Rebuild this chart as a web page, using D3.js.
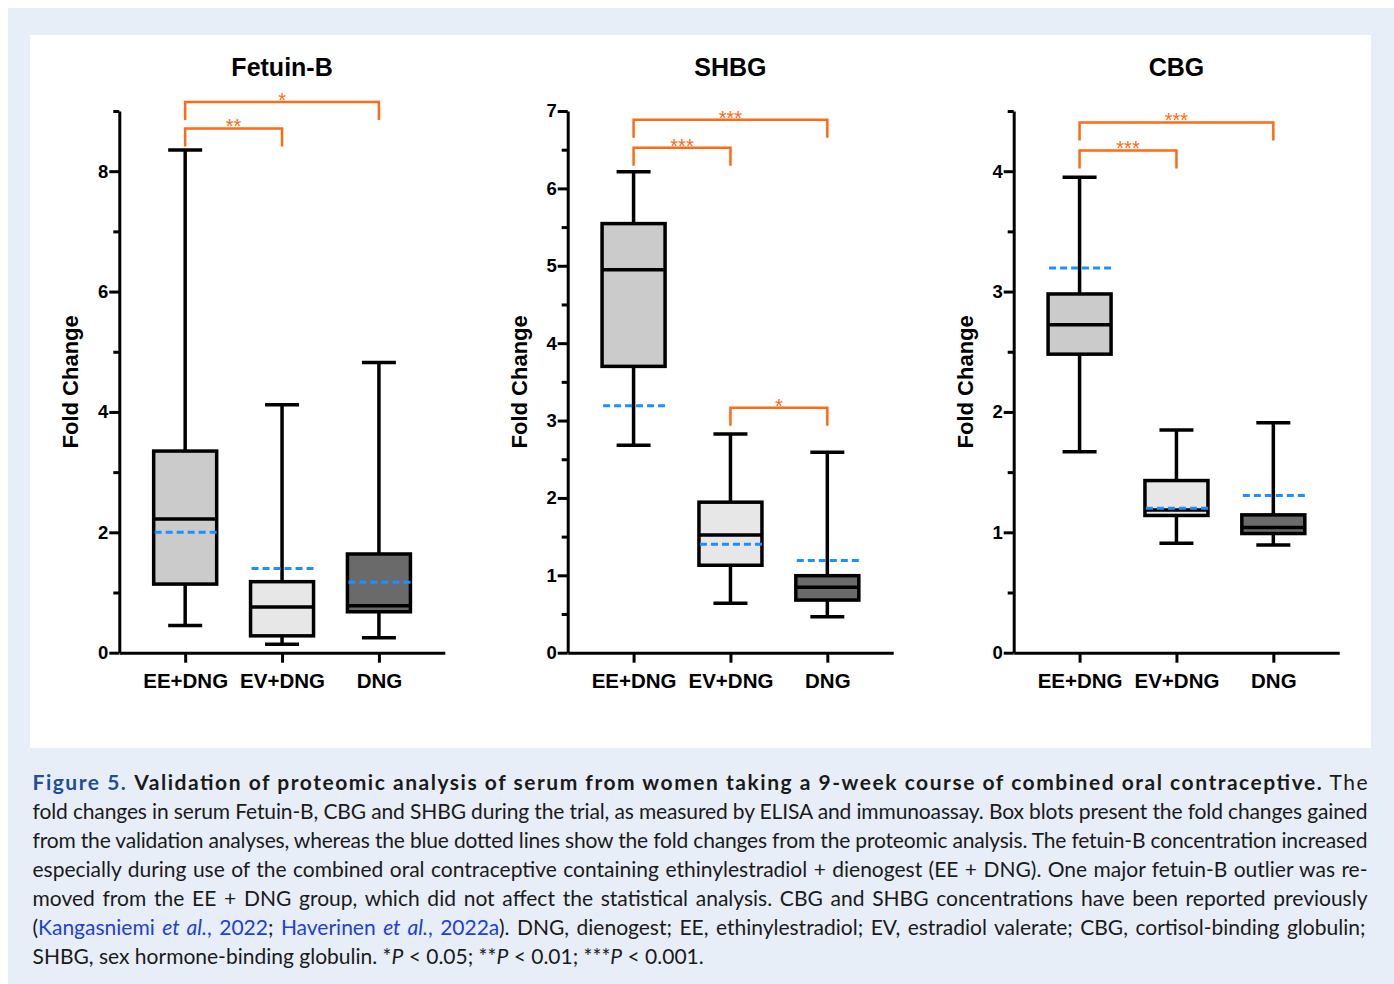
<!DOCTYPE html>
<html>
<head>
<meta charset="utf-8">
<script src="https://cdn.jsdelivr.net/npm/d3@7"></script>
<style>
body { margin: 0; background: #ffffff; }
svg { display: block; }
</style>
</head>
<body>
<div id="figure"></div>
<script>
'use strict'
var width = 1394;
var height = 984;

// categories
var groups = ["EE+DNG", "EV+DNG", "DNG"];
var boxFills = ["#cbcbcb", "#e7e7e7", "#6a6a6a"];

// Fetuin-B
var fetuinMin = [0.45, 0.14, 0.25];
var fetuinQ1 = [1.14, 0.28, 0.68];
var fetuinMedian = [2.22, 0.76, 0.78];
var fetuinQ3 = [3.35, 1.18, 1.64];
var fetuinMax = [8.35, 4.12, 4.82];
var fetuinProteomic = [2.0, 1.40, 1.17];
var fetuinTicks = [0, 2, 4, 6, 8];
var fetuinMinor = [1, 3, 5, 7, 9];
var fetuinBrackets = [["EE+DNG", "EV+DNG", 8.71, "**"], ["EE+DNG", "DNG", 9.15, "*"]];

// SHBG
var shbgMin = [2.68, 0.64, 0.465];
var shbgQ1 = [3.70, 1.13, 0.68];
var shbgMedian = [4.95, 1.52, 0.845];
var shbgQ3 = [5.545, 1.945, 0.995];
var shbgMax = [6.215, 2.826, 2.59];
var shbgProteomic = [3.19, 1.40, 1.19];
var shbgTicks = [0, 1, 2, 3, 4, 5, 6, 7];
var shbgMinor = [0.5, 1.5, 2.5, 3.5, 4.5, 5.5, 6.5];
var shbgBrackets = [["EE+DNG", "EV+DNG", 6.525, "***"], ["EE+DNG", "DNG", 6.886, "***"], ["EV+DNG", "DNG", 3.166, "*"]];

// CBG
var cbgMin = [1.67, 0.91, 0.895];
var cbgQ1 = [2.48, 1.14, 0.99];
var cbgMedian = [2.725, 1.185, 1.04];
var cbgQ3 = [2.98, 1.43, 1.145];
var cbgMax = [3.95, 1.85, 1.91];
var cbgProteomic = [3.195, 1.20, 1.305];
var cbgTicks = [0, 1, 2, 3, 4];
var cbgMinor = [0.5, 1.5, 2.5, 3.5, 4.5];
var cbgBrackets = [["EE+DNG", "EV+DNG", 4.172, "***"], ["EE+DNG", "DNG", 4.405, "***"]];

var chartFont = "'Liberation Sans', Arial, Helvetica, sans-serif";
var orange = "#ff6a13";
var blue = "#1e8fff";

var svg = d3.select("#figure")
	.append("svg")
	.attr("width", width)
	.attr("height", height);

// light blue frame and white plot area
svg.append("rect").attr("x", 8).attr("y", 8).attr("width", width - 8).attr("height", height - 8).attr("fill", "#e7eef8");
svg.append("rect").attr("x", 30).attr("y", 35).attr("width", 1341).attr("height", 713).attr("fill", "#ffffff");

var yZero = 652.7;
var yTop = 111;
var axisWidth = 325.5;

function drawPanel(left, title, yMax, ticks, minor, mins, q1s, meds, q3s, maxs, prot, brackets){
	var g = svg.append("g").attr("transform", "translate(" + left + ",0)");

	var y = d3.scaleLinear().domain([0, yMax]).range([yZero, yTop]);
	var x = d3.scalePoint().domain(groups).range([0, axisWidth]).padding(0.68);

	// title
	g.append("text")
		.attr("x", axisWidth / 2)
		.attr("y", 76)
		.attr("text-anchor", "middle")
		.style("font-family", chartFont)
		.style("font-weight", "bold")
		.style("font-size", "25px")
		.text(title);

	// y label
	g.append("text")
		.attr("transform", "translate(-41," + ((yZero + yTop) / 2) + ") rotate(-90)")
		.attr("text-anchor", "middle")
		.style("font-family", chartFont)
		.style("font-weight", "bold")
		.style("font-size", "22px")
		.text("Fold Change");

	// minor ticks
	var minorAxis = g.append("g")
		.call(d3.axisLeft(y).tickValues(minor).tickSize(6).tickSizeOuter(0).tickFormat(""));
	minorAxis.select(".domain").remove();
	minorAxis.selectAll("line").attr("stroke", "#000").attr("stroke-width", 3);

	// y axis
	var yAxis = g.append("g")
		.call(d3.axisLeft(y).tickValues(ticks).tickSize(10).tickSizeOuter(0).tickPadding(1).tickFormat(d3.format("d")));
	yAxis.select(".domain").attr("stroke-width", 3);
	yAxis.selectAll("line").attr("stroke-width", 3);
	yAxis.selectAll("text")
		.style("font-family", chartFont)
		.style("font-weight", "bold")
		.style("font-size", "18.5px")
		.attr("fill", "#000");

	// x axis
	var xAxis = g.append("g")
		.attr("transform", "translate(0," + yZero + ")")
		.call(d3.axisBottom(x).tickSize(10).tickSizeOuter(0));
	xAxis.select(".domain").attr("stroke-width", 3);
	xAxis.selectAll("line").attr("stroke-width", 3);
	xAxis.selectAll("text")
		.attr("y", 35.3)
		.attr("dy", 0)
		.style("font-family", chartFont)
		.style("font-weight", "bold")
		.style("font-size", "20.5px")
		.attr("fill", "#000");

	var boxes = groups.map(function(d, i){
		return {grp: d, min: mins[i], q1: q1s[i], med: meds[i], q3: q3s[i], max: maxs[i], prot: prot[i], fill: boxFills[i]};
	});
	var bw = 63, cw = 34;

	var b = g.append("g").selectAll("g")
		.data(boxes)
		.enter()
		.append("g")
			.attr("transform", function(d){ return "translate(" + x(d.grp) + ",0)"; });

	b.append("line")
		.attr("y1", function(d){ return y(d.min); })
		.attr("y2", function(d){ return y(d.max); })
		.attr("stroke", "#000").attr("stroke-width", 3.5);
	b.append("rect")
		.attr("x", -bw / 2)
		.attr("y", function(d){ return y(d.q3); })
		.attr("width", bw)
		.attr("height", function(d){ return y(d.q1) - y(d.q3); })
		.attr("fill", function(d){ return d.fill; })
		.attr("stroke", "#000").attr("stroke-width", 3.5);
	b.append("line")
		.attr("x1", -bw / 2).attr("x2", bw / 2)
		.attr("y1", function(d){ return y(d.med); })
		.attr("y2", function(d){ return y(d.med); })
		.attr("stroke", "#000").attr("stroke-width", 3.5);
	["min", "max"].forEach(function(k){
		b.append("line")
			.attr("x1", -cw / 2).attr("x2", cw / 2)
			.attr("y1", function(d){ return y(d[k]); })
			.attr("y2", function(d){ return y(d[k]); })
			.attr("stroke", "#000").attr("stroke-width", 3.5);
	});
	// proteomic fold change (blue dotted)
	b.append("line")
		.attr("x1", -bw / 2 + 1).attr("x2", bw / 2)
		.attr("y1", function(d){ return y(d.prot); })
		.attr("y2", function(d){ return y(d.prot); })
		.attr("stroke", blue).attr("stroke-width", 3)
		.attr("stroke-dasharray", "7,4");

	// significance brackets
	var leg = 18;
	var br = g.append("g").selectAll("g")
		.data(brackets)
		.enter()
		.append("g");
	br.append("path")
		.attr("d", function(d){
			var yy = y(d[2]);
			return "M" + x(d[0]) + "," + (yy + leg) + "V" + yy + "H" + x(d[1]) + "V" + (yy + leg);
		})
		.attr("fill", "none")
		.attr("stroke", orange)
		.attr("stroke-width", 2.5);
	br.append("text")
		.attr("x", function(d){ return (x(d[0]) + x(d[1])) / 2; })
		.attr("y", function(d){ return y(d[2]) + 5; })
		.attr("text-anchor", "middle")
		.style("font-family", chartFont)
		.style("font-size", "20px")
		.attr("fill", orange)
		.text(function(d){ return d[3]; });
}

drawPanel(119.3, "Fetuin-B", 9, fetuinTicks, fetuinMinor, fetuinMin, fetuinQ1, fetuinMedian, fetuinQ3, fetuinMax, fetuinProteomic, fetuinBrackets);
drawPanel(567.7, "SHBG", 7, shbgTicks, shbgMinor, shbgMin, shbgQ1, shbgMedian, shbgQ3, shbgMax, shbgProteomic, shbgBrackets);
drawPanel(1013.7, "CBG", 4.5, cbgTicks, cbgMinor, cbgMin, cbgQ1, cbgMedian, cbgQ3, cbgMax, cbgProteomic, cbgBrackets);

// caption, one entry per printed line: [text, style]
var captionLines = [
	[["Figure 5.", "fig"], [" ", ""], ["Validation of proteomic analysis of serum from women taking a 9-week course of combined oral contraceptive.", "b"], [" The", ""]],
	[["fold changes in serum Fetuin-B, CBG and SHBG during the trial, as measured by ELISA and immunoassay. Box blots present the fold changes gained", ""]],
	[["from the validation analyses, whereas the blue dotted lines show the fold changes from the proteomic analysis. The fetuin-B concentration increased", ""]],
	[["especially during use of the combined oral contraceptive containing ethinylestradiol + dienogest (EE + DNG). One major fetuin-B outlier was re-", ""]],
	[["moved from the EE + DNG group, which did not affect the statistical analysis. CBG and SHBG concentrations have been reported previously", ""]],
	[["(", ""], ["Kangasniemi ", "link"], ["et al.", "linki"], [", 2022", "link"], ["; ", ""], ["Haverinen ", "link"], ["et  al.", "linki"], [", 2022a", "link"], ["). DNG, dienogest; EE, ethinylestradiol; EV, estradiol valerate; CBG, cortisol-binding globulin;", ""]],
	[["SHBG, sex hormone-binding globulin. *", ""], ["P", "i"], [" < 0.05; **", ""], ["P", "i"], [" < 0.01; ***", ""], ["P", "i"], [" < 0.001.", ""]]
];

var capX = 32.5, capW = 1335;
captionLines.forEach(function(line, li){
	var t = svg.append("text")
		.attr("x", capX)
		.attr("y", 790 + li * 29)
		.style("font-family", "Lato, 'Open Sans', sans-serif")
		.style("font-size", "21px")
		.attr("fill", "#1a1a1a");
	var spaces = 0;
	line.forEach(function(seg){
		var s = t.append("tspan").text(seg[0]);
		spaces += (seg[0].match(/ /g) || []).length;
		if(seg[1] === "fig"){ s.attr("fill", "#1f4f95").style("font-weight", "bold"); }
		else if(seg[1] === "b"){ s.style("font-weight", "bold"); }
		else if(seg[1] === "link"){ s.attr("fill", "#2040d8"); }
		else if(seg[1] === "linki"){ s.attr("fill", "#2040d8").style("font-style", "italic"); }
		else if(seg[1] === "i"){ s.style("font-style", "italic"); }
	});
	if(li < captionLines.length - 1){
		var w = t.node().getComputedTextLength();
		var extra = (capW - w) / spaces;
		if(extra >= 0 && extra < 3){
			t.style("word-spacing", extra + "px");
		}
		else {
			t.attr("textLength", capW).attr("lengthAdjust", "spacing");
		}
	}
});
</script>
</body>
</html>
